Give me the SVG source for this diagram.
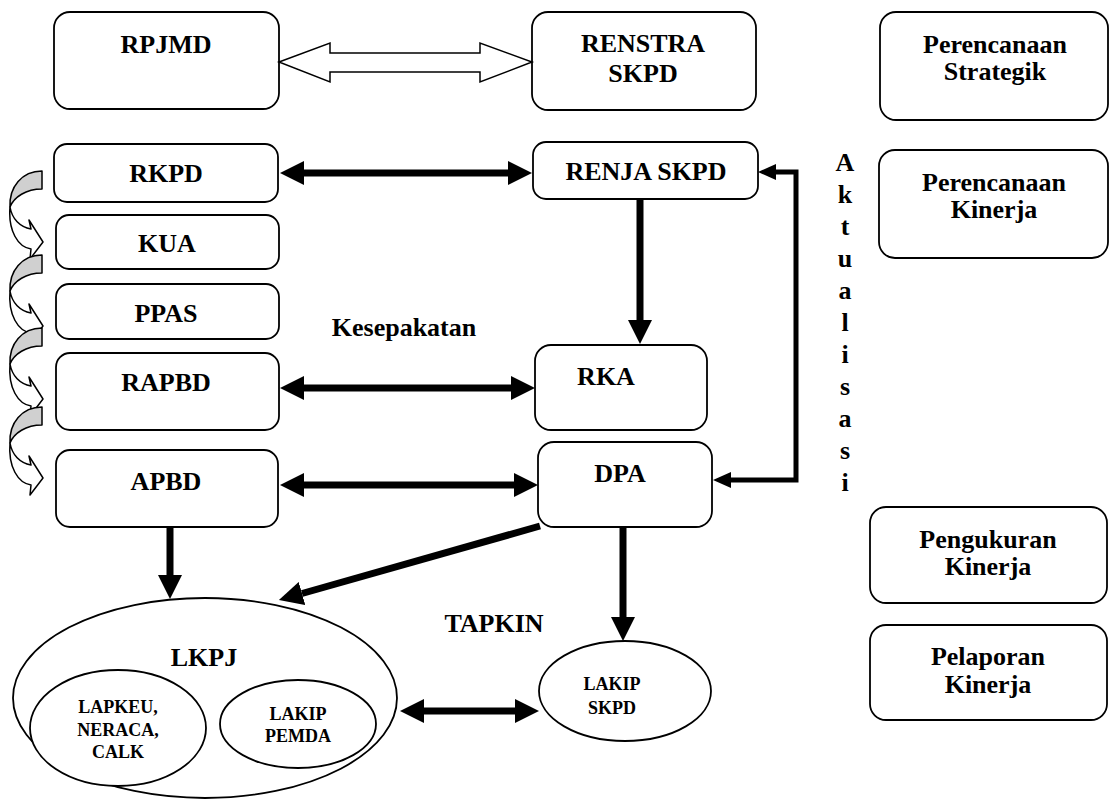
<svg xmlns="http://www.w3.org/2000/svg" width="1110" height="800" viewBox="0 0 1110 800">
<style>
.box{fill:#fff;stroke:#000;stroke-width:1.8}
.t{font-family:"Liberation Serif","Times New Roman",serif;font-weight:bold;font-size:26px;text-anchor:middle;fill:#000}
.s{font-family:"Liberation Serif","Times New Roman",serif;font-weight:bold;font-size:18px;text-anchor:middle;fill:#000}
.thick{fill:none;stroke:#000;stroke-width:7}
.thin{fill:none;stroke:#000;stroke-width:5;stroke-linejoin:miter}
.cg{fill:#d0d0d0;stroke:#000;stroke-width:1.5;stroke-linejoin:round}
.cw{fill:#fff;stroke:#000;stroke-width:1.5;stroke-linejoin:round}
</style>
<defs>
<marker id="ah" markerUnits="userSpaceOnUse" markerWidth="24" markerHeight="24" viewBox="0 0 24 24" refX="0" refY="12" orient="auto-start-reverse"><path d="M0,0 L24,12 L0,24 Z" fill="#000"/></marker>
<marker id="ahs" markerUnits="userSpaceOnUse" markerWidth="18" markerHeight="16" viewBox="0 0 18 16" refX="0" refY="8" orient="auto-start-reverse"><path d="M0,0 L18,8 L0,16 Z" fill="#000"/></marker>
<g id="curved">
<path class="cg" d="M42,0 C22,0 9,16 10,36 C14,26 26,18 42,18 Z"/>
<path class="cw" d="M10,36 C12,48 20,56 31,58 L29,49 L43,71 L30,88 L31,78 C18,76 8,60 10,36 Z"/>
</g>
</defs>

<g id="node-rpjmd"><rect class="box" x="54" y="12" width="225" height="97" rx="16"/><text class="t" x="166" y="53">RPJMD</text></g>
<g id="node-renstra"><rect class="box" x="532" y="12" width="224" height="98" rx="16"/><text class="t" x="643" y="52">RENSTRA</text><text class="t" x="643" y="82">SKPD</text></g>
<g id="node-perencanaan-strategik"><rect class="box" x="880" y="12" width="228" height="108" rx="16"/><text class="t" x="995" y="53">Perencanaan</text><text class="t" x="995" y="80">Strategik</text></g>
<g id="node-rkpd"><rect class="box" x="54" y="144" width="224" height="58" rx="13"/><text class="t" x="166" y="182">RKPD</text></g>
<g id="node-renja"><rect class="box" x="533" y="142" width="225" height="57" rx="13"/><text class="t" x="646" y="180">RENJA SKPD</text></g>
<g id="node-perencanaan-kinerja"><rect class="box" x="879" y="150" width="229" height="108" rx="16"/><text class="t" x="994" y="191">Perencanaan</text><text class="t" x="994" y="218">Kinerja</text></g>
<g id="node-kua"><rect class="box" x="56" y="215" width="223" height="54" rx="13"/><text class="t" x="167" y="252">KUA</text></g>
<g id="node-ppas"><rect class="box" x="56" y="284" width="223" height="55" rx="13"/><text class="t" x="166" y="322">PPAS</text></g>
<g id="node-rapbd"><rect class="box" x="56" y="353" width="223" height="77" rx="14"/><text class="t" x="166" y="391">RAPBD</text></g>
<g id="node-rka"><rect class="box" x="535" y="345" width="172" height="85" rx="16"/><text class="t" x="606" y="385">RKA</text></g>
<g id="node-apbd"><rect class="box" x="56" y="450" width="222" height="77" rx="14"/><text class="t" x="166" y="490">APBD</text></g>
<g id="node-dpa"><rect class="box" x="538" y="442" width="174" height="85" rx="16"/><text class="t" x="620" y="482">DPA</text></g>
<g id="node-pengukuran"><rect class="box" x="870" y="507" width="237" height="96" rx="16"/><text class="t" x="988" y="548">Pengukuran</text><text class="t" x="988" y="575">Kinerja</text></g>
<g id="node-pelaporan"><rect class="box" x="870" y="625" width="237" height="95" rx="16"/><text class="t" x="988" y="665">Pelaporan</text><text class="t" x="988" y="693">Kinerja</text></g>

<g id="node-lkpj">
<ellipse class="box" cx="205" cy="698" rx="192" ry="100"/>
<text class="t" x="204" y="666">LKPJ</text>
</g>
<g id="node-lapkeu"><ellipse class="box" cx="118" cy="728" rx="88" ry="58"/><text class="s" x="118" y="713">LAPKEU,</text><text class="s" x="118" y="736">NERACA,</text><text class="s" x="118" y="758">CALK</text></g>
<g id="node-lakip-pemda"><ellipse class="box" cx="298" cy="724" rx="78" ry="44"/><text class="s" x="298" y="720">LAKIP</text><text class="s" x="298" y="742">PEMDA</text></g>
<g id="node-lakip-skpd"><ellipse class="box" cx="625" cy="691" rx="86" ry="50"/><text class="s" x="612" y="690">LAKIP</text><text class="s" x="612" y="714">SKPD</text></g>

<g id="labels">
<text class="t" x="404" y="336">Kesepakatan</text>
<text class="t" x="494" y="632">TAPKIN</text>
<text class="t" x="845"><tspan x="845" y="171">A</tspan><tspan x="845" y="203">k</tspan><tspan x="845" y="235">t</tspan><tspan x="845" y="267">u</tspan><tspan x="845" y="299">a</tspan><tspan x="845" y="331">l</tspan><tspan x="845" y="363">i</tspan><tspan x="845" y="395">s</tspan><tspan x="845" y="427">a</tspan><tspan x="845" y="459">s</tspan><tspan x="845" y="491">i</tspan></text>
</g>

<g id="connectors">
<polygon fill="#fff" stroke="#000" stroke-width="1.5" points="279,62 330,43 330,53 480,53 480,43 532,62 480,82 480,72 330,72 330,82"/>
<use href="#curved" x="0" y="171"/>
<use href="#curved" x="0" y="255"/>
<use href="#curved" x="0" y="328"/>
<use href="#curved" x="0" y="407"/>
<line class="thick" x1="304" y1="173" x2="508" y2="173" marker-start="url(#ah)" marker-end="url(#ah)"/>
<line class="thick" x1="304" y1="388" x2="511" y2="388" marker-start="url(#ah)" marker-end="url(#ah)"/>
<line class="thick" x1="304" y1="485" x2="514" y2="485" marker-start="url(#ah)" marker-end="url(#ah)"/>
<line class="thick" x1="424" y1="711" x2="515" y2="711" marker-start="url(#ah)" marker-end="url(#ah)"/>
<line class="thick" x1="640" y1="199" x2="640" y2="320" marker-end="url(#ah)"/>
<line class="thick" x1="170" y1="527" x2="170" y2="575" marker-end="url(#ah)"/>
<line class="thick" x1="623" y1="527" x2="623" y2="617" marker-end="url(#ah)"/>
<line class="thick" x1="540" y1="526" x2="302" y2="593.5" marker-end="url(#ah)"/>
<path class="thin" d="M731,480 H796 V172 H776" marker-start="url(#ahs)" marker-end="url(#ahs)"/>
</g>
</svg>
